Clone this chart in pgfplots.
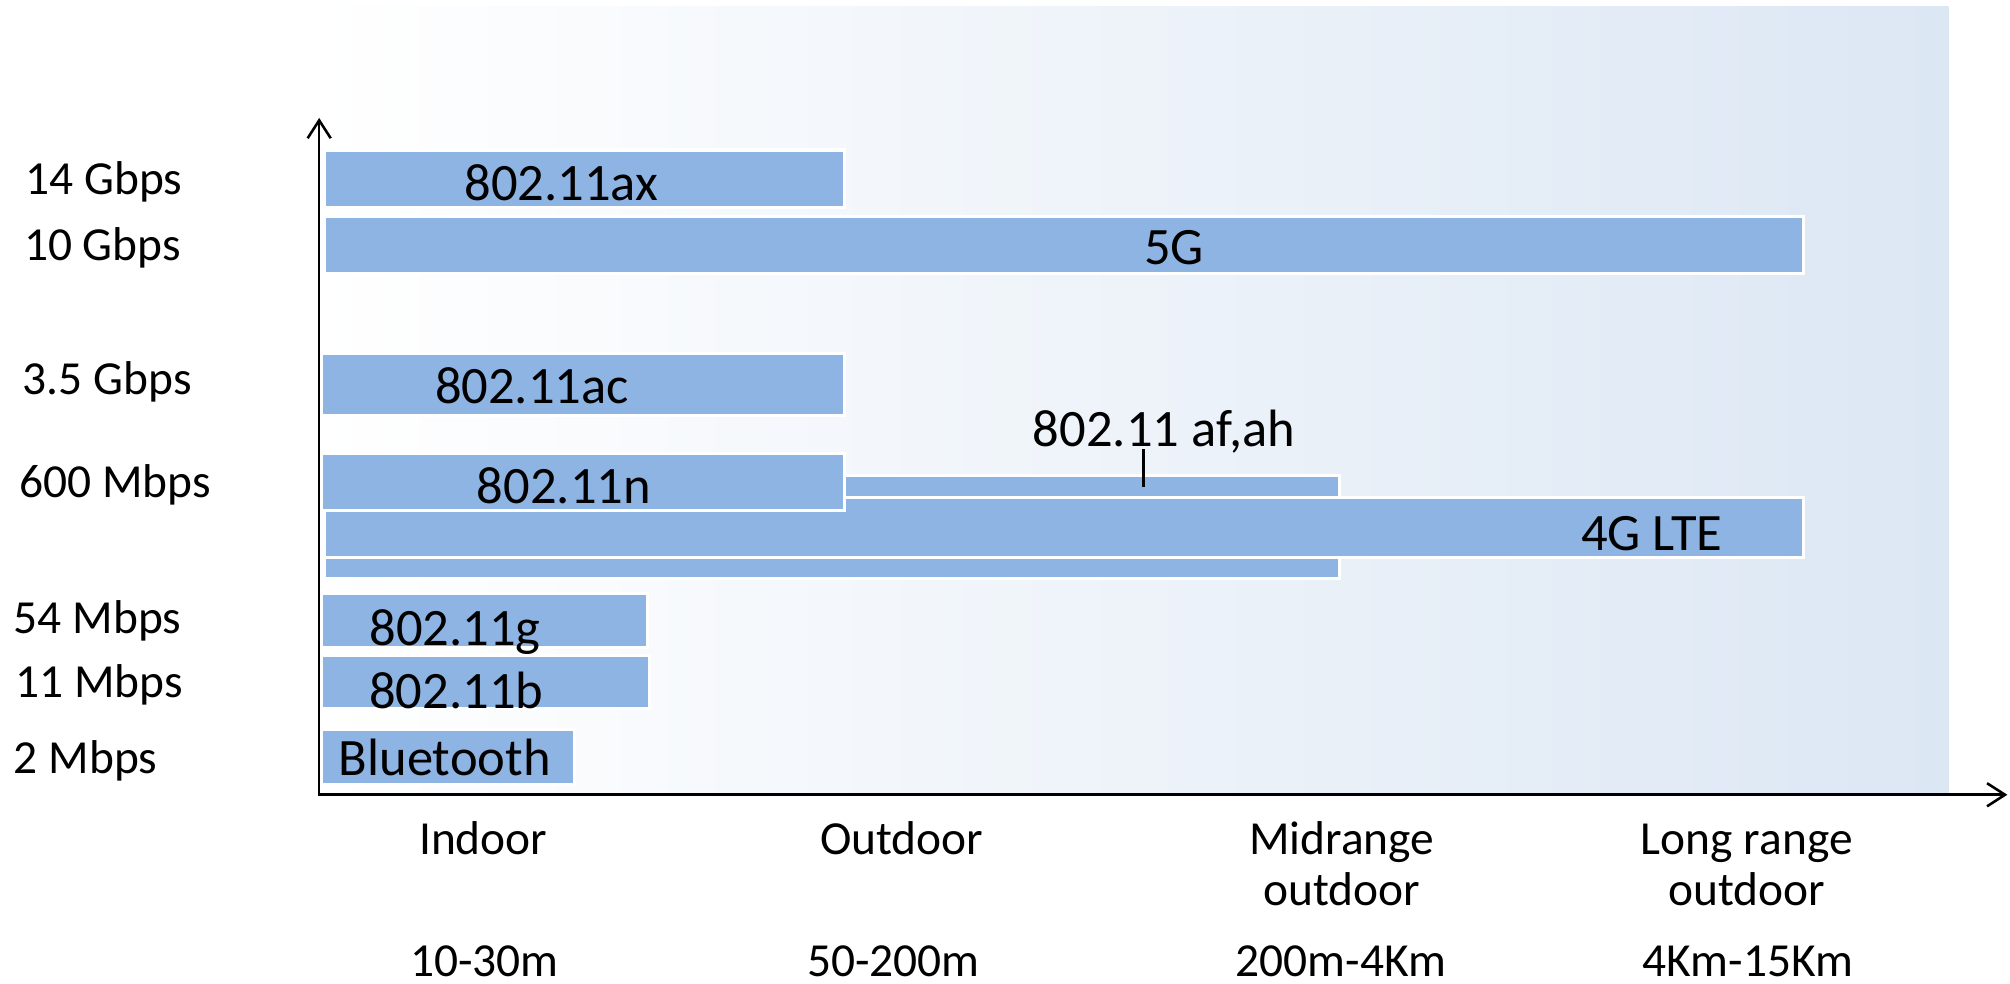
\documentclass[border=0pt]{standalone}
\usepackage{fontspec}
\setmainfont{Carlito}
\usepackage{pgfplots}
\pgfplotsset{compat=1.18}
\usetikzlibrary{arrows.meta}
\definecolor{barblue}{RGB}{142,180,227}
\definecolor{bgblue}{RGB}{220,231,244}
\newcommand\barfont{\fontsize{10.25bp}{12bp}\selectfont}
\newcommand\lblfont{\fontsize{9.25bp}{11bp}\selectfont}
\begin{document}
\begin{tikzpicture}
\useasboundingbox (-62bp,-36.75bp) rectangle (330bp,155bp);
\begin{axis}[
  x=0.25bp, y=0.25bp,
  xmin=0, xmax=1272, ymin=0, ymax=615,
  axis line style={draw=none}, ticks=none, clip=false,
  axis background/.style={left color=white, right color=bgblue},
  bar/.style={fill=barblue, draw=white, line width=0.6bp, line cap=rect, line join=miter},
]
% 802.11 af,ah (behind)
\addplot[bar] coordinates {(5,169) (797,169) (797,249) (5,249) (5,169)};
% 802.11ax
\addplot[bar] coordinates {(5,458) (411,458) (411,503) (5,503) (5,458)};
% 5G
\addplot[bar] coordinates {(5,407) (1159,407) (1159,451) (5,451) (5,407)};
% 802.11ac
\addplot[bar] coordinates {(3,296) (411,296) (411,344) (3,344) (3,296)};
% 4G LTE
\addplot[bar] coordinates {(5,185) (1159,185) (1159,232) (5,232) (5,185)};
% 802.11n
\addplot[bar] coordinates {(3,222) (411,222) (411,266) (3,266) (3,222)};
% 802.11g
\addplot[bar] coordinates {(3,115) (257,115) (257,157) (3,157) (3,115)};
% 802.11b
\addplot[bar] coordinates {(3,67) (259,67) (259,109) (3,109) (3,67)};
% Bluetooth
\addplot[bar] coordinates {(3,8) (200,8) (200,51) (3,51) (3,8)};
% af,ah pointer
\addplot[black, line width=0.45bp] coordinates {(644,269.7) (644,240.3)};
% axes
\addplot[black, line width=0.5bp, -{Straight Barb[length=3.5bp,width=4.5bp]}] coordinates {(1,0) (1,528)};
\addplot[black, line width=0.5bp, -{Straight Barb[length=3.5bp,width=4.5bp]}] coordinates {(0,0) (1318,0)};
% bar labels
\node[anchor=base, font=\barfont] at (axis cs:190,463.5) {802.11ax};
\node[anchor=base, font=\barfont] at (axis cs:668,413.3) {5G};
\node[anchor=base, font=\barfont] at (axis cs:167,305) {802.11ac};
\node[anchor=base, font=\barfont] at (axis cs:660,271.6) {802.11 af,ah};
\node[anchor=base, font=\barfont] at (axis cs:192,227.4) {802.11n};
\node[anchor=base, font=\barfont] at (axis cs:1040.6,190.6) {4G LTE};
\node[anchor=base, font=\barfont] at (axis cs:107,116.3) {802.11g};
\node[anchor=base, font=\barfont] at (axis cs:108,67.4) {802.11b};
\node[anchor=base, font=\barfont] at (axis cs:99,15.4) {Bluetooth};
% y labels
\node[anchor=base west, inner sep=0pt, font=\lblfont] at (axis cs:-229,468) {14 Gbps};
\node[anchor=base west, inner sep=0pt, font=\lblfont] at (axis cs:-230,417) {10 Gbps};
\node[anchor=base west, inner sep=0pt, font=\lblfont] at (axis cs:-231,312) {3.5 Gbps};
\node[anchor=base west, inner sep=0pt, font=\lblfont] at (axis cs:-233.7,232) {600 Mbps};
\node[anchor=base west, inner sep=0pt, font=\lblfont] at (axis cs:-238,126) {54 Mbps};
\node[anchor=base west, inner sep=0pt, font=\lblfont] at (axis cs:-236.8,76) {11 Mbps};
\node[anchor=base west, inner sep=0pt, font=\lblfont] at (axis cs:-238,16.7) {2 Mbps};
% x labels
\node[anchor=base, font=\lblfont] at (axis cs:129,-46.5) {Indoor};
\node[anchor=base, font=\lblfont] at (axis cs:455.5,-46.5) {Outdoor};
\node[anchor=base, font=\lblfont] at (axis cs:798.8,-46.5) {Midrange};
\node[anchor=base, font=\lblfont] at (axis cs:798.8,-86) {outdoor};
\node[anchor=base, font=\lblfont] at (axis cs:1114.7,-46.5) {Long range};
\node[anchor=base, font=\lblfont] at (axis cs:1114.7,-86) {outdoor};
\node[anchor=base, font=\lblfont] at (axis cs:130,-141.5) {10-30m};
\node[anchor=base, font=\lblfont] at (axis cs:449,-141.5) {50-200m};
\node[anchor=base, font=\lblfont] at (axis cs:798,-141.5) {200m-4Km};
\node[anchor=base, font=\lblfont] at (axis cs:1115.5,-141.5) {4Km-15Km};
\end{axis}
\end{tikzpicture}
\end{document}
